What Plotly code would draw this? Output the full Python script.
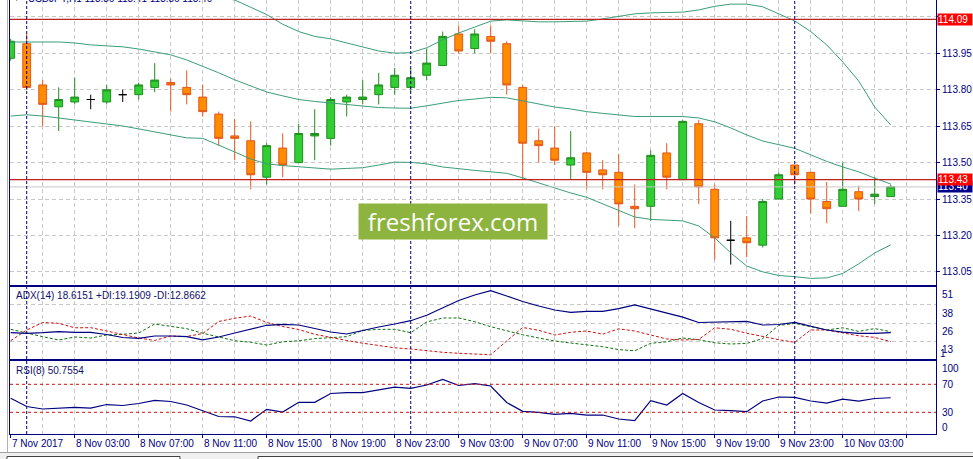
import pandas as pd
import plotly.graph_objects as go

W, H = 973, 459


def fx(px):
    return px / W


def fy(px):
    return 1 - px / H


# hourly bars, 7 Nov 2017 23:00 -> 10 Nov 2017 06:00
times = pd.date_range("2017-11-07 23:00", periods=56, freq="h")
bars = list(range(len(times)))

open_ = [113.93, 113.99, 113.82, 113.73, 113.75, 113.76, 113.75, 113.78, 113.78, 113.81,
         113.83, 113.81, 113.77, 113.70, 113.61, 113.59, 113.44, 113.56, 113.50, 113.61,
         113.60, 113.75, 113.76, 113.78, 113.81, 113.81, 113.86, 113.90, 114.03, 113.97,
         114.02, 113.99, 113.81, 113.59, 113.56, 113.49, 113.54, 113.47, 113.46, 113.32,
         113.32, 113.54, 113.43, 113.66, 113.39, 113.18, 113.19, 113.16, 113.35, 113.49,
         113.46, 113.34, 113.32, 113.38, 113.36, 113.36]
high = [114.01, 114.03, 113.84, 113.81, 113.85, 113.78, 113.82, 113.80, 113.83, 113.91,
        113.845, 113.88, 113.82, 113.71, 113.68, 113.67, 113.58, 113.62, 113.66, 113.72,
        113.77, 113.78, 113.84, 113.87, 113.89, 113.89, 113.97, 114.04, 114.065, 114.05,
        114.065, 114.00, 113.82, 113.64, 113.65, 113.63, 113.545, 113.51, 113.535, 113.41,
        113.55, 113.58, 113.675, 113.675, 113.41, 113.26, 113.28, 113.35, 113.46, 113.49,
        113.46, 113.42, 113.50, 113.405, 113.44, 113.41]
low = [113.92, 113.80, 113.65, 113.63, 113.74, 113.72, 113.74, 113.75, 113.76, 113.79,
       113.71, 113.74, 113.69, 113.57, 113.51, 113.39, 113.41, 113.44, 113.50, 113.51,
       113.57, 113.69, 113.74, 113.74, 113.78, 113.79, 113.84, 113.90, 113.95, 113.95,
       113.95, 113.78, 113.43, 113.50, 113.49, 113.43, 113.39, 113.39, 113.24, 113.23,
       113.26, 113.39, 113.43, 113.33, 113.10, 113.08, 113.11, 113.15, 113.35, 113.41,
       113.29, 113.25, 113.32, 113.30, 113.33, 113.36]
close = [114.00, 113.81, 113.74, 113.76, 113.77, 113.76, 113.80, 113.78, 113.82, 113.84,
         113.82, 113.78, 113.71, 113.60, 113.60, 113.45, 113.57, 113.49, 113.62, 113.62,
         113.76, 113.77, 113.77, 113.82, 113.86, 113.85, 113.91, 114.02, 113.96, 114.03,
         114.00, 113.82, 113.58, 113.57, 113.51, 113.52, 113.46, 113.45, 113.33, 113.31,
         113.53, 113.44, 113.67, 113.40, 113.19, 113.18, 113.17, 113.34, 113.45, 113.45,
         113.35, 113.31, 113.39, 113.35, 113.37, 113.40]

bb_upper = [114.302, 114.30, 114.31, 114.31, 114.31, 114.30, 114.30, 114.30, 114.29, 114.28,
            114.26, 114.23, 114.20, 114.18, 114.17, 114.14, 114.11, 114.07, 114.04, 114.02,
            114.01, 113.993, 113.977, 113.96, 113.951, 113.953, 113.973, 114.006, 114.034, 114.059,
            114.083, 114.088, 114.083, 114.08, 114.08, 114.08, 114.083, 114.092, 114.104, 114.113,
            114.117, 114.117, 114.12, 114.129, 114.144, 114.153, 114.153, 114.142, 114.113, 114.084,
            114.04, 113.985, 113.915, 113.836, 113.729, 113.655]
bb_middle = [113.997, 113.997, 113.997, 113.997, 113.993, 113.985, 113.981, 113.977, 113.968, 113.956,
             113.944, 113.923, 113.898, 113.87, 113.841, 113.816, 113.791, 113.775, 113.76, 113.752,
             113.746, 113.738, 113.731, 113.727, 113.725, 113.724, 113.734, 113.746, 113.756, 113.762,
             113.769, 113.767, 113.754, 113.742, 113.729, 113.721, 113.71, 113.703, 113.697, 113.69,
             113.69, 113.69, 113.69, 113.684, 113.668, 113.643, 113.614, 113.589, 113.573, 113.559,
             113.532, 113.505, 113.482, 113.462, 113.436, 113.412]
bb_lower = [113.692, 113.697, 113.692, 113.684, 113.676, 113.668, 113.659, 113.651, 113.639, 113.626,
            113.614, 113.602, 113.60, 113.573, 113.544, 113.515, 113.495, 113.488, 113.482, 113.476,
            113.473, 113.476, 113.479, 113.49, 113.502, 113.501, 113.495, 113.482, 113.474, 113.468,
            113.462, 113.456, 113.437, 113.416, 113.394, 113.375, 113.357, 113.33, 113.301, 113.276,
            113.266, 113.264, 113.26, 113.239, 113.19, 113.128, 113.074, 113.05, 113.035, 113.03,
            113.023, 113.025, 113.043, 113.083, 113.128, 113.161]

adx = [18.56, 18.18, 18.56, 19.19, 18.81, 18.81, 17.42, 15.52, 15.02, 16.47,
       16.47, 16.03, 14.07, 15.84, 18.37, 20.71, 23.24, 23.87, 23.43, 21.21,
       19.0, 17.74, 20.07, 22.16, 24.06, 26.14, 29.56, 34.17, 38.91, 42.39,
       45.11, 41.76, 38.28, 35.44, 32.91, 31.45, 32.09, 32.09, 33.79, 36.07,
       33.35, 30.82, 28.36, 25.0, 25.32, 25.51, 25.76, 23.43, 23.74, 25.13,
       22.79, 20.26, 18.87, 18.18, 18.18, 18.62]
plus_di = [20.71, 18.18, 16.03, 13.94, 15.84, 15.21, 17.10, 17.55, 18.37, 24.06,
           22.79, 21.09, 18.24, 15.84, 13.50, 12.49, 10.78, 12.80, 13.44, 14.83,
           15.59, 16.03, 20.01, 20.64, 20.71, 18.56, 25.32, 27.85, 27.85, 25.51,
           22.35, 19.70, 17.23, 15.21, 13.31, 12.05, 10.78, 9.71, 7.88, 7.12,
           11.86, 12.80, 15.21, 14.13, 12.17, 11.42, 11.79, 14.83, 23.11, 24.44,
           22.35, 20.26, 21.66, 19.38, 21.15, 19.19]
minus_di = [13.50, 20.26, 25.0, 24.5, 21.66, 21.72, 19.63, 17.42, 15.21, 13.63,
            16.47, 16.16, 18.05, 25.64, 27.66, 29.11, 25.0, 22.48, 20.58, 17.55,
            15.40, 13.63, 11.92, 10.47, 9.01, 8.26, 6.99, 6.17, 5.54, 5.09,
            4.59, 13.31, 21.85, 20.07, 17.10, 18.81, 19.63, 17.61, 21.02, 19.63,
            17.10, 14.58, 13.94, 14.26, 21.66, 20.71, 18.24, 16.16, 14.13, 12.49,
            20.26, 20.26, 18.24, 16.60, 15.59, 12.87]
rsi = [50.0, 38.3, 34.7, 35.7, 37.1, 35.9, 41.1, 39.7, 42.6, 47.1,
       45.4, 40.4, 32.6, 24.0, 23.6, 17.6, 34.3, 30.4, 44.3, 44.3,
       56.9, 58.0, 58.0, 62.1, 65.9, 64.3, 69.0, 76.9, 68.3, 71.1,
       67.6, 44.0, 31.4, 30.0, 27.1, 28.6, 26.1, 26.1, 20.4, 18.0,
       46.6, 40.4, 56.9, 44.0, 33.3, 32.3, 30.9, 46.1, 51.9, 51.4,
       46.1, 43.0, 48.7, 46.1, 49.7, 50.76]

price_ticks = [113.05, 113.20, 113.35, 113.50, 113.65, 113.80, 113.95, 114.10]
price_tick_text = ["113.05", "113.20", "113.35", "113.50", "113.65", "113.80", "113.95", ""]
level_lines = [114.09, 113.43]
bid_price = 113.40
rsi_levels = [70, 30]
adx_scale_labels = ["51", "38", "26", "13", "1"]
rsi_scale_labels = ["100", "70", "30", "0"]

title_text = "USDJPY,H1 113.36 113.41 113.36 113.40"
adx_text = "ADX(14) 18.6151 +DI:19.1909 -DI:12.8662"
rsi_text = "RSI(8) 50.7554"

NAVY = "#000080"
GRID = "#c8c8c8"
FONT = "Liberation Sans"
BB_COLOR = "#3c9e78"
RED = "#c0201e"

# x tick labels every 4 hours, first bar shows the year
label_bars = [0] + [i for i, t in enumerate(times) if t.hour % 4 == 3 and i > 0]
label_text = ["7 Nov 2017"] + [f"{times[i].day} Nov {times[i]:%H:%M}" for i in label_bars[1:]]
separator_bars = [i for i, t in enumerate(times) if t.hour == 0]

bull = [i for i in bars if close[i] > open_[i]]
bear = [i for i in bars if close[i] < open_[i]]
doji = [i for i in bars if close[i] == open_[i]]


def candles(idx, fill, line):
    style = dict(fillcolor=fill, line=dict(color=line, width=1))
    return go.Candlestick(
        x=idx,
        open=[open_[i] for i in idx],
        high=[high[i] for i in idx],
        low=[low[i] for i in idx],
        close=[close[i] for i in idx],
        increasing=style,
        decreasing=style,
        whiskerwidth=0,
        xaxis="x", yaxis="y",
        hoverinfo="skip",
    )


fig = go.Figure()
for band in (bb_upper, bb_middle, bb_lower):
    fig.add_trace(go.Scatter(x=bars, y=band, mode="lines", xaxis="x", yaxis="y",
                             line=dict(color=BB_COLOR, width=1), hoverinfo="skip"))
fig.add_trace(candles(bull, "#32cd32", "#1e8e1e"))
fig.add_trace(candles(bear, "#ff8c00", "#e2571b"))
fig.add_trace(candles(doji, "#000000", "#000000"))

fig.add_trace(go.Scatter(x=bars, y=plus_di, mode="lines", xaxis="x2", yaxis="y2",
                         line=dict(color="#107010", width=1, dash="3px,2px")))
fig.add_trace(go.Scatter(x=bars, y=minus_di, mode="lines", xaxis="x2", yaxis="y2",
                         line=dict(color="#d01010", width=1, dash="3px,2px")))
fig.add_trace(go.Scatter(x=bars, y=adx, mode="lines", xaxis="x2", yaxis="y2",
                         line=dict(color=NAVY, width=1.2)))
fig.add_trace(go.Scatter(x=bars, y=rsi, mode="lines", xaxis="x3", yaxis="y3",
                         line=dict(color=NAVY, width=1.2)))

x_range = [-0.044, 57.83]
x_common = dict(
    domain=[fx(10), fx(936)], range=x_range, showticklabels=False,
    tick0=0, dtick=4, showgrid=True, gridcolor=GRID, griddash="4px,3px", gridwidth=1,
    minor=dict(dtick=2, tick0=0, showgrid=True, gridcolor=GRID, griddash="4px,3px"),
    showline=True, linecolor=NAVY, linewidth=1, zeroline=False,
)
y_common = dict(side="right", showline=True, mirror=True, linecolor=NAVY, linewidth=1,
                zeroline=False, fixedrange=True)

fig.update_layout(
    width=W, height=H, margin=dict(l=0, r=0, t=0, b=0),
    paper_bgcolor="white", plot_bgcolor="white", showlegend=False,
    font=dict(family=FONT, size=10, color=NAVY),
    xaxis=dict(**x_common, anchor="y", ticks="", rangeslider=dict(visible=False)),
    xaxis2=dict(**x_common, anchor="y2", matches="x", ticks="", mirror=True),
    xaxis3=dict(**x_common, anchor="y3", matches="x", ticks="outside", ticklen=3,
                tickcolor=NAVY, mirror=True),
    yaxis=dict(**y_common, domain=[fy(284.7), 1], range=[112.997, 114.170], anchor="x",
               tickvals=price_ticks, ticktext=price_tick_text, ticks="outside", ticklen=3,
               tickcolor=NAVY, tickfont=dict(family=FONT, size=10, color=NAVY),
               showgrid=True, gridcolor=GRID, griddash="4px,3px"),
    yaxis2=dict(**y_common, domain=[fy(359.3), fy(286.7)], range=[1.74, 47.63], anchor="x2",
                tickvals=[36.07, 24.50, 12.87], showticklabels=False, ticks="",
                showgrid=True, gridcolor=GRID, griddash="4px,3px"),
    yaxis3=dict(**y_common, domain=[fy(434), fy(361)], range=[-1.0, 103.3], anchor="x3",
                showticklabels=False, ticks="", showgrid=False),
)

shapes = []
# window chrome: left strip and bottom tab bar
shapes.append(dict(type="line", xref="paper", yref="paper", x0=fx(7.5), x1=fx(7.5),
                   y0=fy(452), y1=1, line=dict(color="#b0b0b0", width=1)))
shapes.append(dict(type="rect", xref="paper", yref="paper", x0=0, x1=1, y0=0, y1=fy(452),
                   fillcolor="#f0f0f0", line=dict(width=0)))
shapes.append(dict(type="line", xref="paper", yref="paper", x0=0, x1=1, y0=fy(452.5),
                   y1=fy(452.5), line=dict(color="#a0a0a0", width=1)))
for x0, x1 in ((7, 180), (258, 975)):
    shapes.append(dict(type="rect", xref="paper", yref="paper", x0=fx(x0), x1=fx(x1),
                       y0=fy(462), y1=fy(456.5), fillcolor="white",
                       line=dict(color="#404040", width=1)))

for lvl in level_lines:
    shapes.append(dict(type="line", xref="paper", yref="y", x0=fx(10), x1=fx(936),
                       y0=lvl, y1=lvl, line=dict(color=RED, width=1.2)))
shapes.append(dict(type="line", xref="paper", yref="y", x0=fx(10), x1=fx(936),
                   y0=bid_price, y1=bid_price, line=dict(color="#c8c8c8", width=1)))
for lvl in rsi_levels:
    shapes.append(dict(type="line", xref="paper", yref="y3", x0=fx(10), x1=fx(936),
                       y0=lvl, y1=lvl, line=dict(color="#d01010", width=1, dash="3px,3px")))
for b in separator_bars:
    shapes.append(dict(type="line", xref="x", yref="paper", x0=b, x1=b, y0=fy(434), y1=1,
                       line=dict(color=NAVY, width=1, dash="3px,2px")))
fig.update_layout(shapes=shapes)

ann = []
ann.append(dict(text="▼", x=fx(16), y=1, xref="paper", yref="paper", xanchor="center",
                yanchor="middle", yshift=2, showarrow=False, font=dict(size=7, color=NAVY)))
ann.append(dict(text=title_text, x=fx(26), y=1, xref="paper", yref="paper", xanchor="left",
                yanchor="middle", yshift=2, showarrow=False, font=dict(size=10, color=NAVY)))
ann.append(dict(text=adx_text, x=fx(14), y=fy(295.7), xref="paper", yref="paper",
                xanchor="left", yanchor="middle", showarrow=False,
                font=dict(size=10, color="#10106a")))
ann.append(dict(text=rsi_text, x=fx(14), y=fy(370.7), xref="paper", yref="paper",
                xanchor="left", yanchor="middle", showarrow=False,
                font=dict(size=10, color="#10106a")))

# watermark
ann.append(dict(text="freshforex.com", x=fx(453), y=fy(221.7), xref="paper", yref="paper",
                xanchor="center", yanchor="middle", showarrow=False, width=186, height=33,
                bgcolor="#8db43e", font=dict(family="Open Sans", size=24, color="white")))

# price boxes on the right scale
for txt, price, bg in (("113.40", bid_price, "#00008b"), ("114.09", level_lines[0], "#ff0000"),
                       ("113.43", level_lines[1], "#ff0000")):
    ann.append(dict(text=txt, x=fx(937), y=price, xref="paper", yref="y", xanchor="left",
                    yanchor="middle", showarrow=False, width=34, height=11, align="left",
                    borderpad=0, bgcolor=bg, font=dict(size=10, color="white")))

for txt, ypx, xpx in zip(adx_scale_labels, [294, 313.3, 331.7, 349.3, 353], [940, 940, 940, 940, 938]):
    ann.append(dict(text=txt, x=fx(xpx), y=fy(ypx), xref="paper", yref="paper",
                    xanchor="left", yanchor="middle", showarrow=False,
                    font=dict(size=10, color=NAVY)))
for txt, ypx in zip(rsi_scale_labels, [368.3, 384.3, 412.3, 427.3]):
    ann.append(dict(text=txt, x=fx(940), y=fy(ypx), xref="paper", yref="paper",
                    xanchor="left", yanchor="middle", showarrow=False,
                    font=dict(size=10, color=NAVY)))

for b, txt in zip(label_bars, label_text):
    ann.append(dict(text=txt, x=b, y=fy(443.3), xref="x3", yref="paper", xanchor="left",
                    yanchor="middle", xshift=-1, showarrow=False,
                    font=dict(size=10, color=NAVY)))

fig.update_layout(annotations=ann)

# the page body has a default margin; drop it so the figure fills the window
fig.write_html("out.html", config={"displayModeBar": False},
               post_script="document.body.style.margin = '0';")
